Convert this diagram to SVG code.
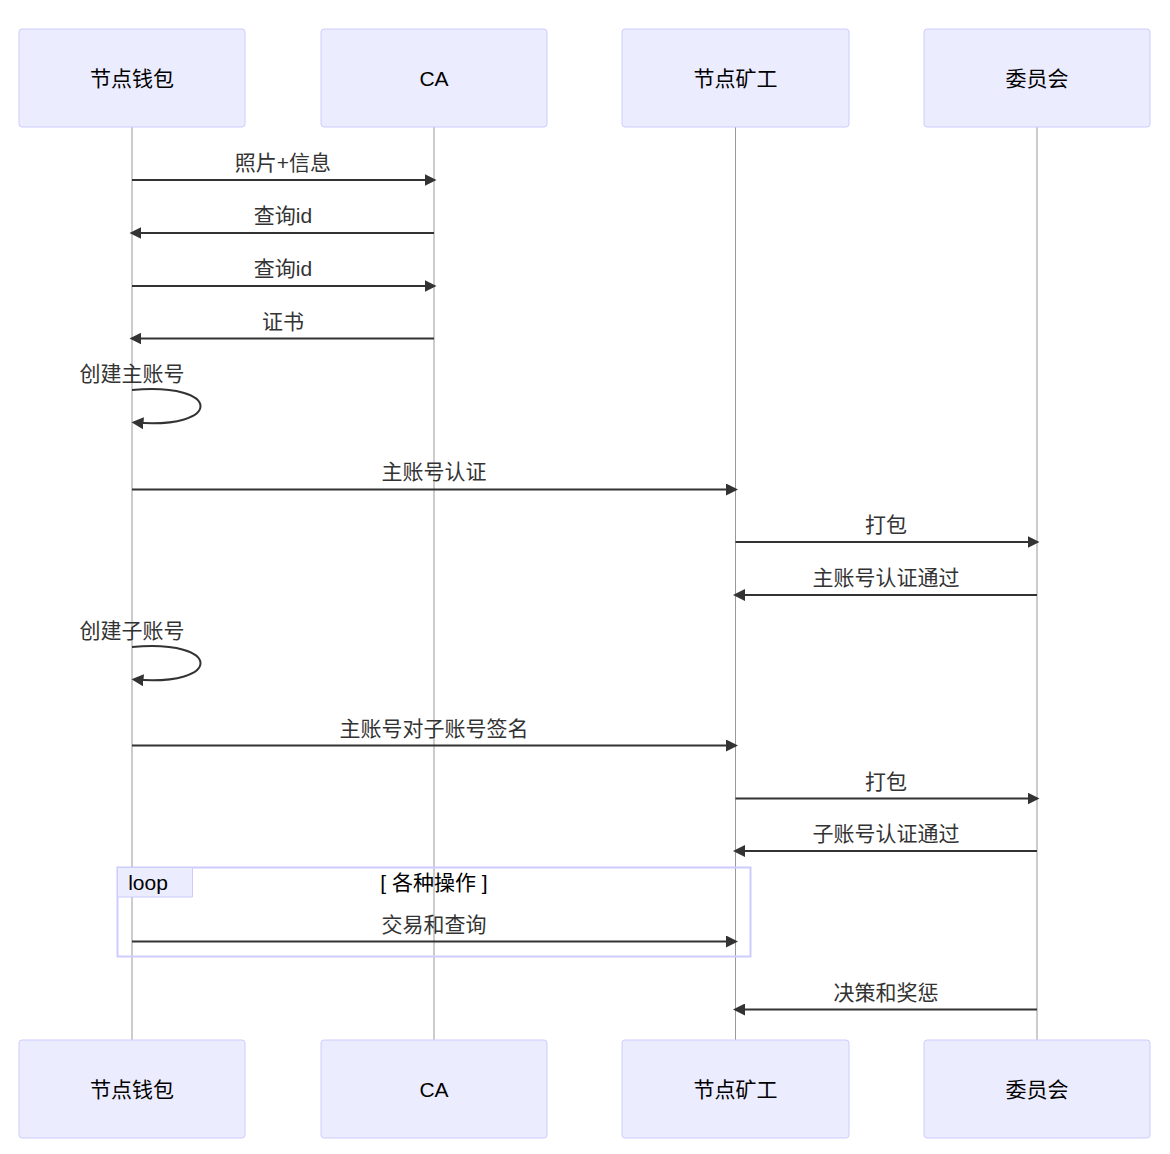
<svg xmlns="http://www.w3.org/2000/svg" width="1170" height="1154" viewBox="0 0 1170 1154">
<style>
text{font-family:"Liberation Sans","Noto Sans CJK SC",sans-serif;font-size:21px;fill:#333;text-anchor:middle;dominant-baseline:central}
.actor rect{fill:#ECECFF;stroke:#CCCCFF;stroke-width:1}
.actor text{fill:#000}
.life{stroke:#999;stroke-width:1}
.msg{stroke:#333;stroke-width:2;fill:none;marker-end:url(#arrow)}
.loopbox{fill:none;stroke:#CCCCFF;stroke-width:2}
.looplabel{fill:#ECECFF;stroke:#CCCCFF;stroke-width:1}
</style>
<defs>
<marker id="arrow" viewBox="0 0 10 10" refX="7.9" refY="5" markerWidth="12" markerHeight="12" markerUnits="userSpaceOnUse" orient="auto">
<path d="M0 0 L10 5 L0 10 z" fill="#333"/>
</marker>
</defs>
<rect width="1170" height="1154" fill="#fff"/>
<g id="lifelines">
<line class="life" x1="132" y1="127" x2="132" y2="1040"/>
<line class="life" x1="434" y1="127" x2="434" y2="1040"/>
<line class="life" x1="735.5" y1="127" x2="735.5" y2="1040"/>
<line class="life" x1="1037" y1="127" x2="1037" y2="1040"/>
</g>
<g id="actor-wallet-top" class="actor"><rect x="19" y="29" width="226" height="98" rx="3"/><text x="132" y="78">节点钱包</text></g>
<g id="actor-ca-top" class="actor"><rect x="321" y="29" width="226" height="98" rx="3"/><text x="434" y="78">CA</text></g>
<g id="actor-miner-top" class="actor"><rect x="622" y="29" width="227" height="98" rx="3"/><text x="735.5" y="78">节点矿工</text></g>
<g id="actor-committee-top" class="actor"><rect x="924" y="29" width="226" height="98" rx="3"/><text x="1037" y="78">委员会</text></g>
<g id="actor-wallet-bottom" class="actor"><rect x="19" y="1040" width="226" height="98" rx="3"/><text x="132" y="1089">节点钱包</text></g>
<g id="actor-ca-bottom" class="actor"><rect x="321" y="1040" width="226" height="98" rx="3"/><text x="434" y="1089">CA</text></g>
<g id="actor-miner-bottom" class="actor"><rect x="622" y="1040" width="227" height="98" rx="3"/><text x="735.5" y="1089">节点矿工</text></g>
<g id="actor-committee-bottom" class="actor"><rect x="924" y="1040" width="226" height="98" rx="3"/><text x="1037" y="1089">委员会</text></g>
<g id="loop">
<rect class="loopbox" x="117.5" y="867.5" width="633" height="89"/>
<path class="looplabel" d="M117.5 867.5 H192.5 V897 H117.5 Z"/>
<text x="148" y="882" style="fill:#000">loop</text>
<text x="434" y="882" style="fill:#000">[ 各种操作 ]</text>
</g>
<g id="connectors">
<line class="msg" x1="132" y1="180" x2="434" y2="180"/>
<line class="msg" x1="434" y1="233" x2="132" y2="233"/>
<line class="msg" x1="132" y1="286" x2="434" y2="286"/>
<line class="msg" x1="434" y1="338.5" x2="132" y2="338.5"/>
<path class="msg" d="M132 390 C223 382, 223 430, 134 422.5"/>
<line class="msg" x1="132" y1="489.5" x2="735.5" y2="489.5"/>
<line class="msg" x1="735.5" y1="542" x2="1037" y2="542"/>
<line class="msg" x1="1037" y1="595" x2="735.5" y2="595"/>
<path class="msg" d="M132 647 C223 639, 223 687, 134 679.5"/>
<line class="msg" x1="132" y1="745.5" x2="735.5" y2="745.5"/>
<line class="msg" x1="735.5" y1="798.5" x2="1037" y2="798.5"/>
<line class="msg" x1="1037" y1="851" x2="735.5" y2="851"/>
<line class="msg" x1="132" y1="941.5" x2="735.5" y2="941.5"/>
<line class="msg" x1="1037" y1="1009.5" x2="735.5" y2="1009.5"/>
</g>
<g id="labels">
<text x="283" y="162">照片+信息</text>
<text x="283" y="215">查询id</text>
<text x="283" y="268">查询id</text>
<text x="283" y="321">证书</text>
<text x="132" y="373">创建主账号</text>
<text x="434" y="471">主账号认证</text>
<text x="886" y="524">打包</text>
<text x="886" y="577">主账号认证通过</text>
<text x="132" y="630">创建子账号</text>
<text x="434" y="728">主账号对子账号签名</text>
<text x="886" y="781">打包</text>
<text x="886" y="833">子账号认证通过</text>
<text x="434" y="924">交易和查询</text>
<text x="886" y="992">决策和奖惩</text>
</g>
</svg>
